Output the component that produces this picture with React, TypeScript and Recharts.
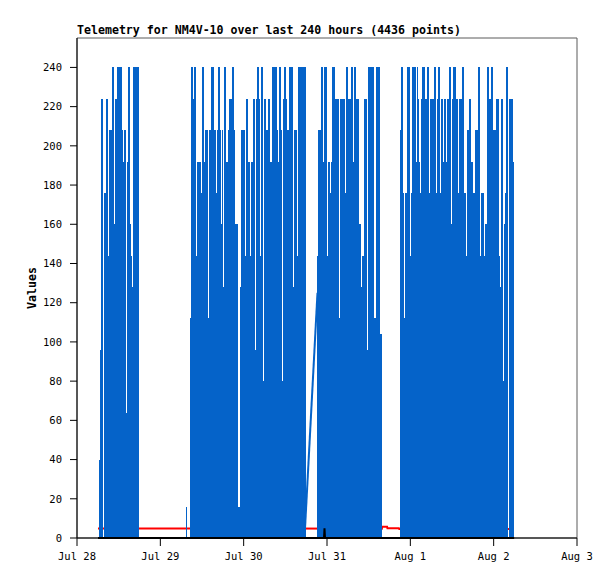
import React from 'react'
import { ComposedChart, Area, Line, XAxis, YAxis, ReferenceArea } from 'recharts'

// x axis: hours since Jul 28 00:00
const DAY_TICKS = [0, 24, 48, 72, 96, 120, 144]
const DAY_LABELS = ['Jul 28', 'Jul 29', 'Jul 30', 'Jul 31', 'Aug 1', 'Aug 2', 'Aug 3']
const VALUE_TICKS = [0, 20, 40, 60, 80, 100, 120, 140, 160, 180, 200, 220, 240]

// each burst value is the peak reading of one ~17 min bucket
const BUCKET_HOURS = 0.288

const BURST_A_START = 6.34
const BURST_A = [
  40, 96, 224, 224, 0, 176, 176, 224, 224, 144, 208, 208, 208, 240, 240, 160, 224, 224, 240, 240,
  240, 240, 240, 208, 192, 208, 208, 64, 192, 240, 240, 160, 144, 128, 240, 240, 240, 240, 240, 240,
]

const BURST_B_START = 31.39
const BURST_B = [
  16, 0, 0, 0, 112, 240, 240, 224, 240, 240, 144, 192, 192, 192, 192, 176, 240, 240, 192, 208,
  208, 208, 112, 208, 208, 240, 240, 240, 208, 208, 176, 208, 240, 240, 208, 160, 208, 128, 240, 240,
  192, 192, 208, 224, 224, 224, 240, 240, 208, 160, 160, 160, 16, 16, 128, 208, 208, 208, 208, 144,
  224, 224, 192, 192, 144, 192, 192, 224, 224, 96, 224, 240, 240, 224, 144, 240, 240, 80, 224, 224,
  208, 208, 224, 224, 192, 192, 240, 240, 240, 240, 240, 208, 192, 240, 240, 208, 80, 224, 240, 240,
  224, 208, 208, 240, 240, 240, 240, 128, 208, 208, 208, 144, 240, 240, 240, 240, 240, 240, 240, 240,
]

const BURST_C_START = 69.12
const BURST_C = [
  144, 208, 208, 208, 240, 240, 192, 240, 240, 240, 144, 192, 192, 176, 192, 240, 240, 240, 224, 224,
  224, 224, 112, 224, 224, 224, 224, 224, 176, 240, 240, 224, 224, 224, 240, 240, 192, 240, 240, 224,
  224, 224, 160, 160, 128, 144, 144, 224, 224, 224, 96, 240, 240, 240, 240, 240, 240, 112, 112, 240,
  240, 240, 240, 104, 104,
]

const BURST_D_START = 93.02
const BURST_D = [
  208, 240, 240, 176, 112, 176, 176, 240, 240, 240, 144, 176, 240, 240, 240, 240, 192, 240, 224, 192,
  176, 224, 240, 240, 240, 224, 224, 240, 240, 176, 224, 224, 224, 224, 240, 240, 176, 224, 240, 240,
  176, 224, 224, 192, 224, 224, 192, 224, 224, 240, 240, 160, 224, 240, 240, 240, 224, 224, 176, 224,
  224, 224, 240, 240, 176, 176, 144, 208, 208, 224, 224, 192, 192, 176, 176, 208, 208, 208, 240, 240,
  144, 176, 176, 176, 144, 160, 160, 240, 240, 224, 224, 240, 240, 208, 208, 208, 224, 224, 224, 144,
  128, 224, 224, 80, 160, 176, 240, 240, 0, 224, 224, 224, 224, 192,
]

// line across the data gap before Jul 30 20:00
const GAP_HOURS = [65.52, 69.26]
const GAP_VALUES = [0, 125]

const RED_HOURS = [6.05, 60, 87.8, 87.9, 89.3, 89.4, 92.7, 92.8, 124.7]
const RED_VALUES = [4.9, 4.8, 4.7, 5.8, 5.8, 5.0, 5.0, 4.6, 4.6]

const BLACK_HOURS = [6.05, 71.14, 71.28, 71.42, 125.9]
const BLACK_VALUES = [0, 0, 5, 0, 0]

const BLUE = '#0563c9'
const MONO = '"DejaVu Sans Mono", monospace'

type Row = { t: number; v: number | null }

const bursts = [
  { start: BURST_A_START, values: BURST_A },
  { start: BURST_B_START, values: BURST_B },
  { start: BURST_C_START, values: BURST_C },
  { start: BURST_D_START, values: BURST_D },
]

const blueRows: Row[] = []
bursts.forEach(({ start, values }) => {
  values.forEach((v, i) => blueRows.push({ t: start + i * BUCKET_HOURS, v }))
  const end = start + values.length * BUCKET_HOURS
  blueRows.push({ t: end, v: values[values.length - 1] })
  blueRows.push({ t: end + 0.01, v: null })
})

const zipRows = (hours: number[], values: number[]): Row[] => hours.map((t, i) => ({ t, v: values[i] }))
const gapRows = zipRows(GAP_HOURS, GAP_VALUES)
const redRows = zipRows(RED_HOURS, RED_VALUES)
const blackRows = zipRows(BLACK_HOURS, BLACK_VALUES)

const tick = { fill: '#000', fontSize: 10.5, fontFamily: MONO }

export default function App() {
  return (
    <div style={{ position: 'relative', width: 615, height: 579, background: '#fff' }}>
      <style>{'body{margin:0} .recharts-area-area{shape-rendering:crispEdges}'}</style>
      <div style={{ position: 'absolute', left: 77, top: 24, font: `bold 11.6px ${MONO}`, lineHeight: '12px', whiteSpace: 'nowrap' }}>
        Telemetry for NM4V-10 over last 240 hours (4436 points)
      </div>
      <div style={{ position: 'absolute', left: 2, top: 282, width: 60, textAlign: 'center', transform: 'rotate(-90deg)', font: `bold 11.6px ${MONO}`, lineHeight: '12px' }}>
        Values
      </div>
      <ComposedChart width={615} height={579} margin={{ top: 38, right: 38, bottom: 11, left: 0 }}>
        <XAxis
          dataKey="t" type="number" domain={[0, 144]} ticks={DAY_TICKS} allowDataOverflow
          tickFormatter={(h: number) => DAY_LABELS[DAY_TICKS.indexOf(h)]}
          tick={tick} tickSize={8} tickMargin={7} height={30}
          axisLine={{ stroke: '#000' }} tickLine={{ stroke: '#000' }}
        />
        <YAxis
          dataKey="v" type="number" domain={[0, 255]} ticks={VALUE_TICKS} width={77}
          tick={tick} tickSize={7} tickMargin={8}
          axisLine={{ stroke: '#000' }} tickLine={{ stroke: '#000' }}
        />
        <ReferenceArea x1={0} x2={144} y1={0} y2={255} stroke="#5a5a5a" fill="none" fillOpacity={0} />
        <Area
          data={redRows} dataKey="v" type="linear" stroke="#ff0000" strokeWidth={2}
          fill="none" fillOpacity={0} dot={false} activeDot={false} isAnimationActive={false}
        />
        <Area
          data={blueRows} dataKey="v" type="stepAfter" stroke="none" fill={BLUE} fillOpacity={1}
          dot={false} activeDot={false} isAnimationActive={false}
        />
        <Line
          data={gapRows} dataKey="v" type="linear" stroke={BLUE} strokeWidth={2}
          dot={false} activeDot={false} isAnimationActive={false}
        />
        <Line
          data={blackRows} dataKey="v" type="linear" stroke="#000" strokeWidth={2}
          dot={false} activeDot={false} isAnimationActive={false}
        />
      </ComposedChart>
    </div>
  )
}
